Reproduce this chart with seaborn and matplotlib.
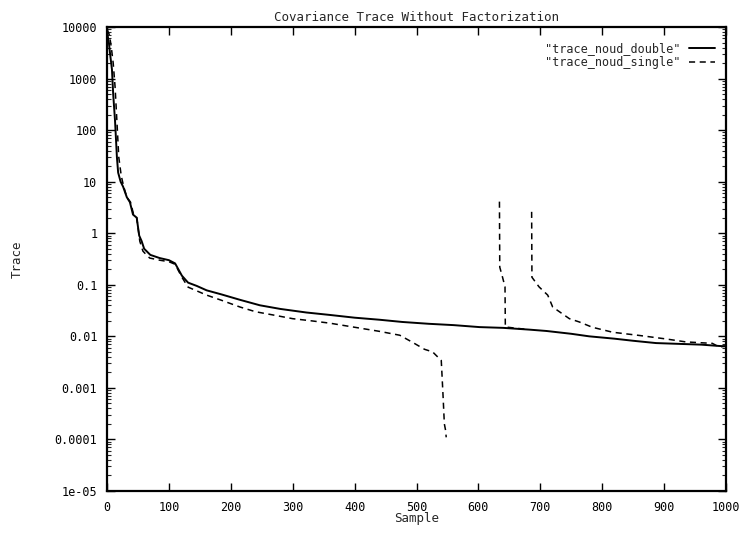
import numpy as np
import pandas as pd
import matplotlib
matplotlib.use("Agg")
import matplotlib.pyplot as plt
import matplotlib.ticker as mticker
import seaborn as sns

# ---- data ----
double_x = [0, 3, 5, 8, 10, 13, 16, 18, 22, 26, 32, 37, 42, 48, 52, 56, 60, 70, 85,
            100, 110, 121, 131, 145, 161, 185, 215, 247, 280, 322, 360, 400, 440, 477,
            520, 560, 602, 640, 682, 710, 750, 779, 820, 850, 887, 930, 960, 989, 1000]
double_y = [8000, 5000, 3000, 1500, 500, 150, 30, 15, 10, 8, 5, 4, 2.3, 2.0, 0.9, 0.7,
            0.5, 0.38, 0.33, 0.3, 0.26, 0.15, 0.11, 0.095, 0.078, 0.065, 0.051, 0.040,
            0.034, 0.029, 0.026, 0.023, 0.021, 0.019, 0.0175, 0.0165, 0.0151, 0.0146,
            0.0135, 0.0127, 0.0112, 0.0100, 0.0090, 0.0082, 0.0074, 0.0071, 0.0069,
            0.0065, 0.0064]

single_a_x = [0, 4, 7, 10, 13, 16, 19, 23, 27, 32, 38, 43, 48, 53, 58, 62, 69, 85, 100,
              110, 121, 131, 161, 185, 215, 240, 268, 300, 330, 360, 400, 440, 473, 494,
              513, 526, 540, 541, 543, 545, 547, 548]
single_a_y = [9000, 7000, 4000, 2000, 700, 150, 30, 13, 8, 5, 4, 2.3, 2.0, 0.7, 0.45, 0.4,
              0.33, 0.3, 0.28, 0.25, 0.14, 0.09, 0.063, 0.05, 0.037, 0.03, 0.026, 0.022,
              0.020, 0.018, 0.015, 0.0125, 0.0105, 0.0076, 0.0056, 0.005, 0.0034, 0.002,
              0.00066, 0.0002, 0.00015, 0.00011]

single_b_x = [634, 634.5, 639, 643, 643.5, 660, 680]
single_b_y = [4.1, 0.22, 0.14, 0.091, 0.0152, 0.0144, 0.0136]

single_c_x = [686, 686.5, 698, 712, 720, 747, 763, 784, 817, 860, 903, 935, 978, 989, 1000]
single_c_y = [2.6, 0.14, 0.091, 0.063, 0.037, 0.022, 0.019, 0.015, 0.012, 0.0104,
              0.0089, 0.0078, 0.0073, 0.0062, 0.0065]

x_ticks = [0, 100, 200, 300, 400, 500, 600, 700, 800, 900, 1000]
y_ticks = [1e4, 1e3, 1e2, 1e1, 1, 0.1, 0.01, 0.001, 0.0001, 1e-5]
y_tick_labels = ["10000", "1000", "100", "10", "1", "0.1", "0.01", "0.001", "0.0001", "1e-05"]

title = "Covariance Trace Without Factorization"
label_double = '"trace_noud_double"'
label_single = '"trace_noud_single"'

# ---- style ----
sns.set_style("ticks")
plt.rcParams["font.family"] = ["DejaVu Sans Mono", "DejaVu Sans"]
plt.rcParams["font.size"] = 8.5

fig = plt.figure(figsize=(7.45, 5.35), dpi=100)
ax = fig.add_axes([107 / 745, 1 - 491 / 535, (726 - 107) / 745, (491 - 27) / 535])

df_d = pd.DataFrame({"x": double_x, "y": double_y})
sns.lineplot(data=df_d, x="x", y="y", ax=ax, color="black", linewidth=1.4,
             label=label_double, estimator=None, sort=False)

dash = (0, (4, 3))
for i, (sx, sy) in enumerate([(single_a_x, single_a_y), (single_b_x, single_b_y),
                              (single_c_x, single_c_y)]):
    df_s = pd.DataFrame({"x": sx, "y": sy})
    sns.lineplot(data=df_s, x="x", y="y", ax=ax, color="black", linewidth=1.1,
                 label=label_single if i == 0 else None, estimator=None, sort=False,
                 linestyle=dash)

ax.set_yscale("log")
ax.set_xlim(0, 1000)
ax.set_ylim(1e-5, 1e4)
ax.set_xticks(x_ticks)
ax.set_xticklabels([str(v) for v in x_ticks])
ax.set_yticks(y_ticks)
ax.set_yticklabels(y_tick_labels)
ax.yaxis.set_minor_locator(mticker.LogLocator(base=10, subs=np.arange(2, 10), numticks=20))
ax.yaxis.set_minor_formatter(mticker.NullFormatter())

ax.tick_params(which="major", direction="in", length=6, width=1.0, top=True, right=True,
               pad=7, labelsize=8.5, colors="black")
ax.tick_params(which="minor", direction="in", length=3, width=0.8, left=True, right=True)
for s in ax.spines.values():
    s.set_visible(True)
    s.set_linewidth(1.6)
    s.set_color("black")

ax.set_title(title, fontsize=9, pad=4)
ax.set_xlabel("Sample", fontsize=9, labelpad=-1)
ax.set_ylabel("Trace", fontsize=9, labelpad=22)

leg = ax.legend(loc="upper right", bbox_to_anchor=(1.0, 0.99), frameon=False,
                markerfirst=False, handlelength=2.2, fontsize=8.5, labelspacing=0.1,
                handletextpad=0.8)

fig.savefig("out.png", dpi=100)
